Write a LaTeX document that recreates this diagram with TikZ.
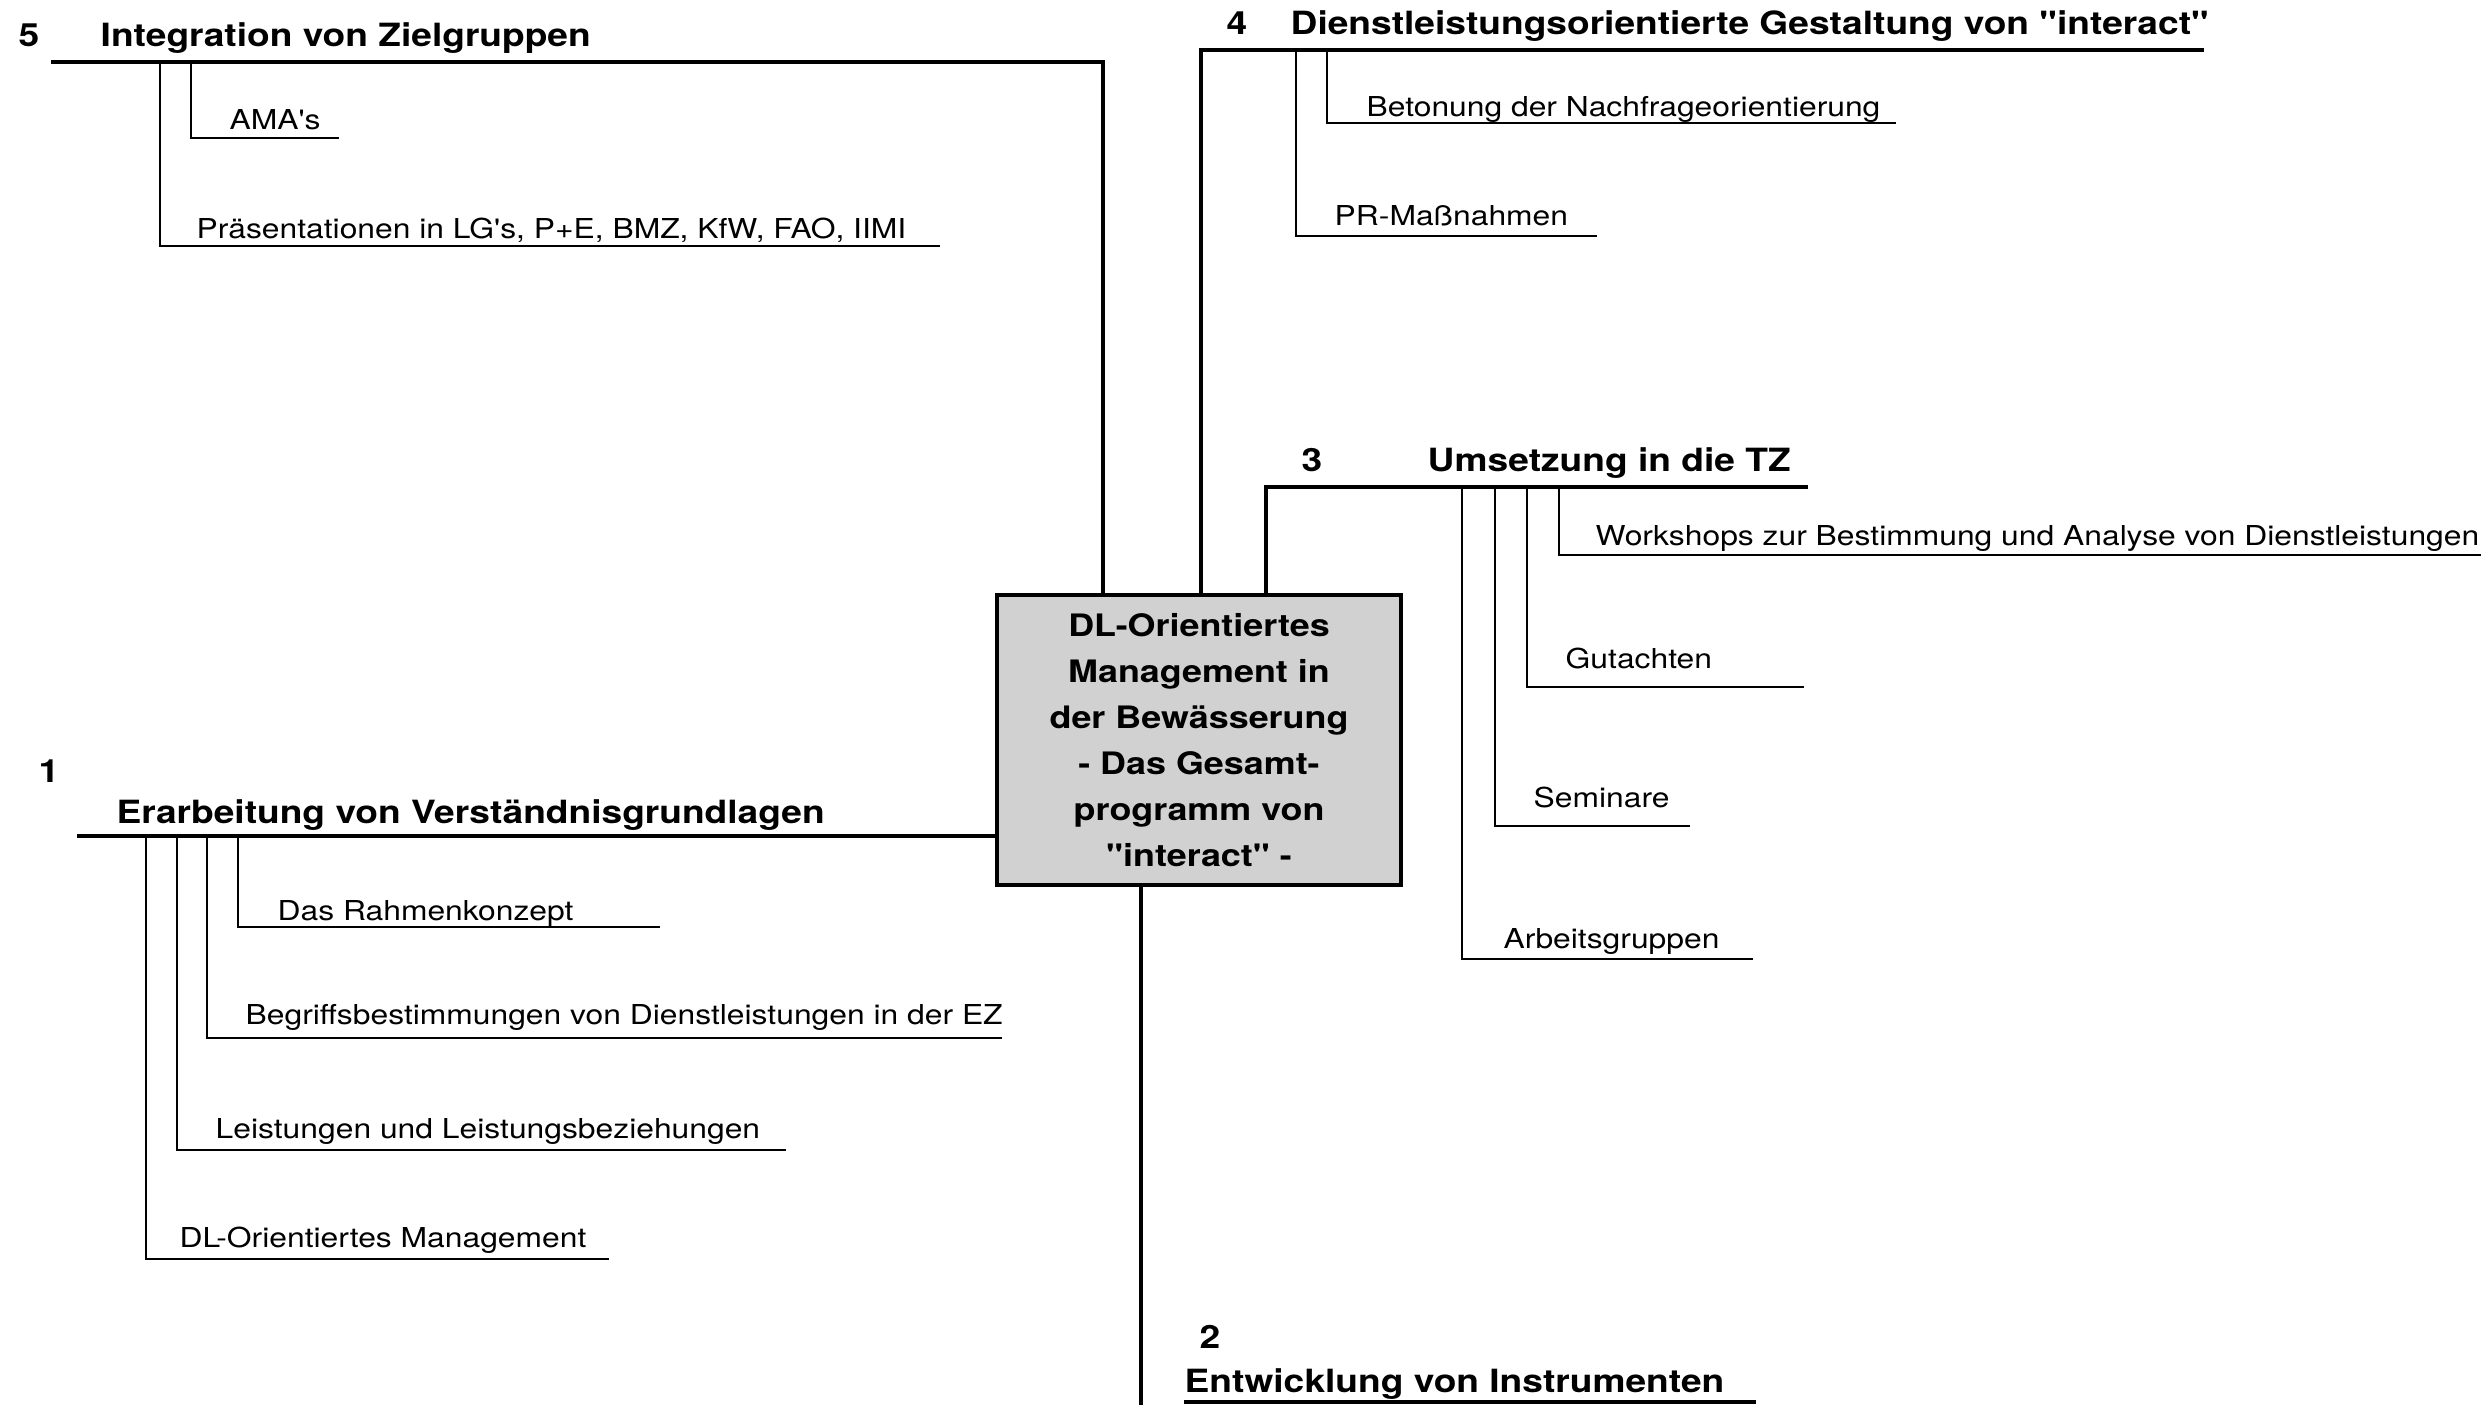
\documentclass[tikz,border=0pt]{standalone}
\usepackage{fontspec}
\setmainfont{TeX Gyre Heros}[FakeStretch=1.16,Ligatures=TeXOff]
\begin{document}
\begin{tikzpicture}[x=0.01cm,y=-0.01cm,
        kopf/.style={anchor=base west,inner sep=0pt,font=\fontsize{9.1}{11}\selectfont\bfseries},
        punkt/.style={anchor=base west,inner sep=0pt,font=\fontsize{7.8}{9}\selectfont},
        mitte/.style={draw,line width=1.3pt,fill=black!18,minimum width=4.04cm,minimum height=2.9cm,
            inner sep=0pt,align=center,font=\fontsize{8.8}{13.1}\selectfont\bfseries},
        haupt/.style={line width=1.3pt},
        ast/.style={line width=0.75pt}]
                \useasboundingbox (0,0) rectangle (2481,1405);
                \node (box) [mitte] at (1199,740) {DL-Orientiertes\\Management in\\der Bewässerung\\- Das Gesamt-\\programm von\\"interact" -};
                % 5
                \node (n5) [kopf] at (18,46) {5};
                \node (h5) [kopf] at (100,46) {Integration von Zielgruppen};
                \node (p5a) [punkt] at (229,129) {AMA's};
                \node (p5b) [punkt] at (196,238) {Präsentationen in LG's, P+E, BMZ, KfW, FAO, IIMI};
                \coordinate (k5) at (51,62);
                \coordinate (s5) at (1103,62);
                \coordinate (a5a) at (191,62);
                \coordinate (e5a) at (339,138);
                \coordinate (a5b) at (160,62);
                \coordinate (e5b) at (940,246);
                \draw [haupt] (k5) to (s5) to (s5 |- box.north);
                \draw [ast] (a5a) |- (e5a);
                \draw [ast] (a5b) |- (e5b);
                % 4
                \node (n4) [kopf] at (1226,34) {4};
                \node (h4) [kopf] at (1290,34) {Dienstleistungsorientierte Gestaltung von "interact"};
                \node (p4a) [punkt] at (1366,116) {Betonung der Nachfrageorientierung};
                \node (p4b) [punkt] at (1334,225) {PR-Maßnahmen};
                \coordinate (s4) at (1201,50);
                \coordinate (k4) at (2204,50);
                \coordinate (a4a) at (1327,50);
                \coordinate (e4a) at (1896,123);
                \coordinate (a4b) at (1296,50);
                \coordinate (e4b) at (1597,236);
                \draw [haupt] (s4 |- box.north) to (s4) to (k4);
                \draw [ast] (a4a) |- (e4a);
                \draw [ast] (a4b) |- (e4b);
                % 3
                \node (n3) [kopf] at (1301,471) {3};
                \node (h3) [kopf] at (1427,471) {Umsetzung in die TZ};
                \node (p3a) [punkt] at (1595,545) {Workshops zur Bestimmung und Analyse von Dienstleistungen};
                \node (p3b) [punkt] at (1565,668) {Gutachten};
                \node (p3c) [punkt] at (1533,807) {Seminare};
                \node (p3d) [punkt] at (1503,948) {Arbeitsgruppen};
                \coordinate (s3) at (1266,487);
                \coordinate (k3) at (1808,487);
                \coordinate (a3a) at (1559,487);
                \coordinate (e3a) at (2481,555);
                \coordinate (a3b) at (1527,487);
                \coordinate (e3b) at (1804,687);
                \coordinate (a3c) at (1495,487);
                \coordinate (e3c) at (1690,826);
                \coordinate (a3d) at (1462,487);
                \coordinate (e3d) at (1753,959);
                \draw [haupt] (s3 |- box.north) to (s3) to (k3);
                \draw [ast] (a3a) |- (e3a);
                \draw [ast] (a3b) |- (e3b);
                \draw [ast] (a3c) |- (e3c);
                \draw [ast] (a3d) |- (e3d);
                % 1
                \node (n1) [kopf] at (38,782) {1};
                \node (h1) [kopf] at (116,823) {Erarbeitung von Verständnisgrundlagen};
                \node (p1a) [punkt] at (277,920) {Das Rahmenkonzept};
                \node (p1b) [punkt] at (245,1024) {Begriffsbestimmungen von Dienstleistungen in der EZ};
                \node (p1c) [punkt] at (215,1138) {Leistungen und Leistungsbeziehungen};
                \node (p1d) [punkt] at (179,1247) {DL-Orientiertes Management};
                \coordinate (k1) at (77,836);
                \coordinate (a1a) at (238,836);
                \coordinate (e1a) at (660,927);
                \coordinate (a1b) at (207,836);
                \coordinate (e1b) at (1002,1038);
                \coordinate (a1c) at (177,836);
                \coordinate (e1c) at (786,1150);
                \coordinate (a1d) at (146,836);
                \coordinate (e1d) at (609,1259);
                \draw [haupt] (k1) to (k1 -| box.west);
                \draw [ast] (a1a) |- (e1a);
                \draw [ast] (a1b) |- (e1b);
                \draw [ast] (a1c) |- (e1c);
                \draw [ast] (a1d) |- (e1d);
                % 2
                \node (n2) [kopf] at (1199,1348) {2};
                \node (h2) [kopf] at (1184,1392) {Entwicklung von Instrumenten};
                \coordinate (s2) at (1141,1405);
                \coordinate (k2a) at (1184,1402);
                \coordinate (k2b) at (1756,1402);
                \draw [haupt] (box.south -| s2) to (s2);
                \draw [haupt] (k2a) to (k2b);
            \end{tikzpicture}
\end{document}
